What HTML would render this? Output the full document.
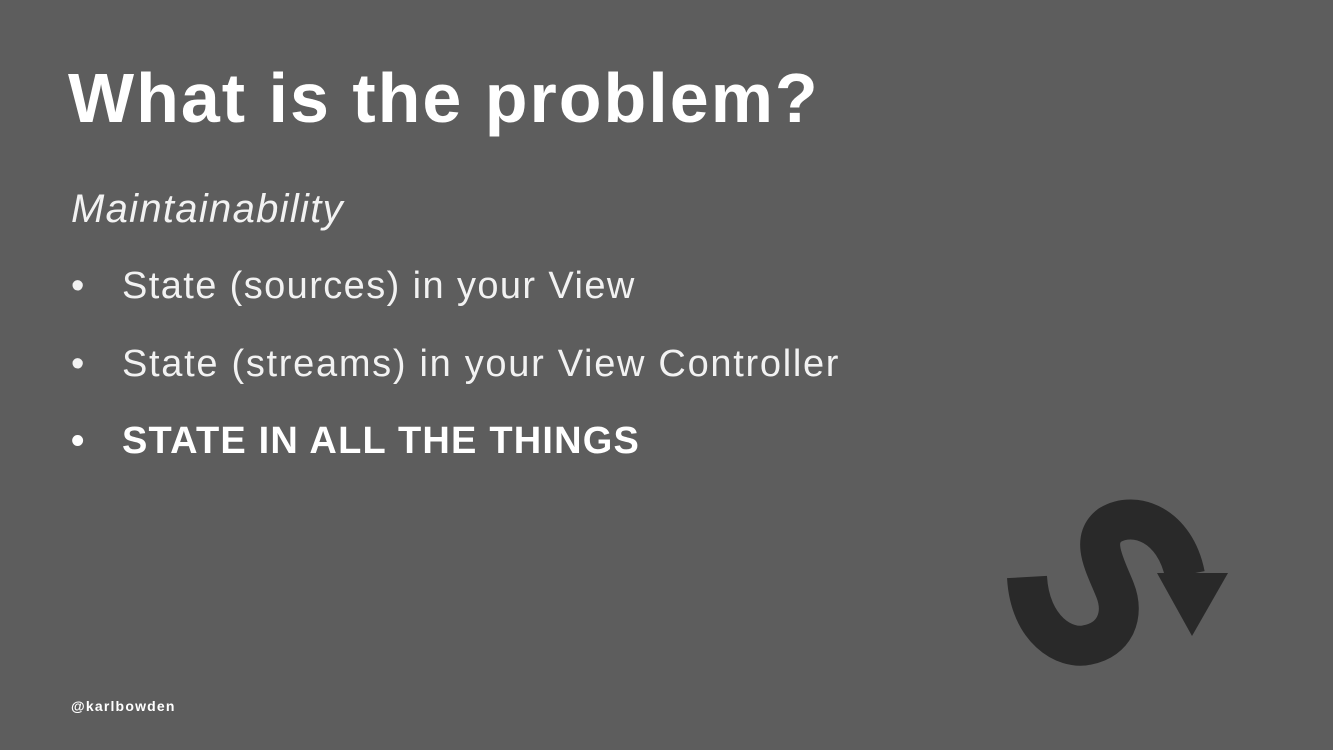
<!DOCTYPE html>
<html><head><style>
body{margin:0;width:1333px;height:750px;background:#5d5d5d;overflow:hidden;position:relative;font-family:"Liberation Sans",sans-serif;color:#fff}
.t{position:absolute;white-space:nowrap}
</style></head><body>
<div class="t" style="left:68px;top:58px;font-size:70px;font-weight:bold;letter-spacing:2px;">What is the problem?</div>
<div class="t" style="left:71px;top:187px;font-size:40px;font-style:italic;color:#f2f2f2;letter-spacing:1.3px">Maintainability</div>
<div class="t" style="left:71px;top:265px;font-size:38px;color:#f2f2f2">•</div>
<div class="t" style="left:122px;top:265px;font-size:38px;color:#f2f2f2;letter-spacing:1.4px">State (sources) in your View</div>
<div class="t" style="left:71px;top:343px;font-size:38px;color:#f2f2f2">•</div>
<div class="t" style="left:122px;top:343px;font-size:38px;color:#f2f2f2;letter-spacing:1.7px">State (streams) in your View Controller</div>
<div class="t" style="left:71px;top:420px;font-size:38px;font-weight:bold">•</div>
<div class="t" style="left:122px;top:420px;font-size:38px;font-weight:bold;letter-spacing:1.2px">STATE IN ALL THE THINGS</div>
<div class="t" style="left:71px;top:698px;font-size:14px;font-weight:bold;letter-spacing:1.2px">@karlbowden</div>
<svg width="1333" height="750" style="position:absolute;left:0;top:0">
<path d="M1027,577 C1030,630 1065,650 1087,645 C1115,640 1125,615 1115,590 C1105,565 1090,540 1110,525 C1135,510 1175,525 1185,575" fill="none" stroke="#292929" stroke-width="40"/>
<polygon points="1157,573 1228,573 1192,636" fill="#292929"/>
</svg>
</body></html>
